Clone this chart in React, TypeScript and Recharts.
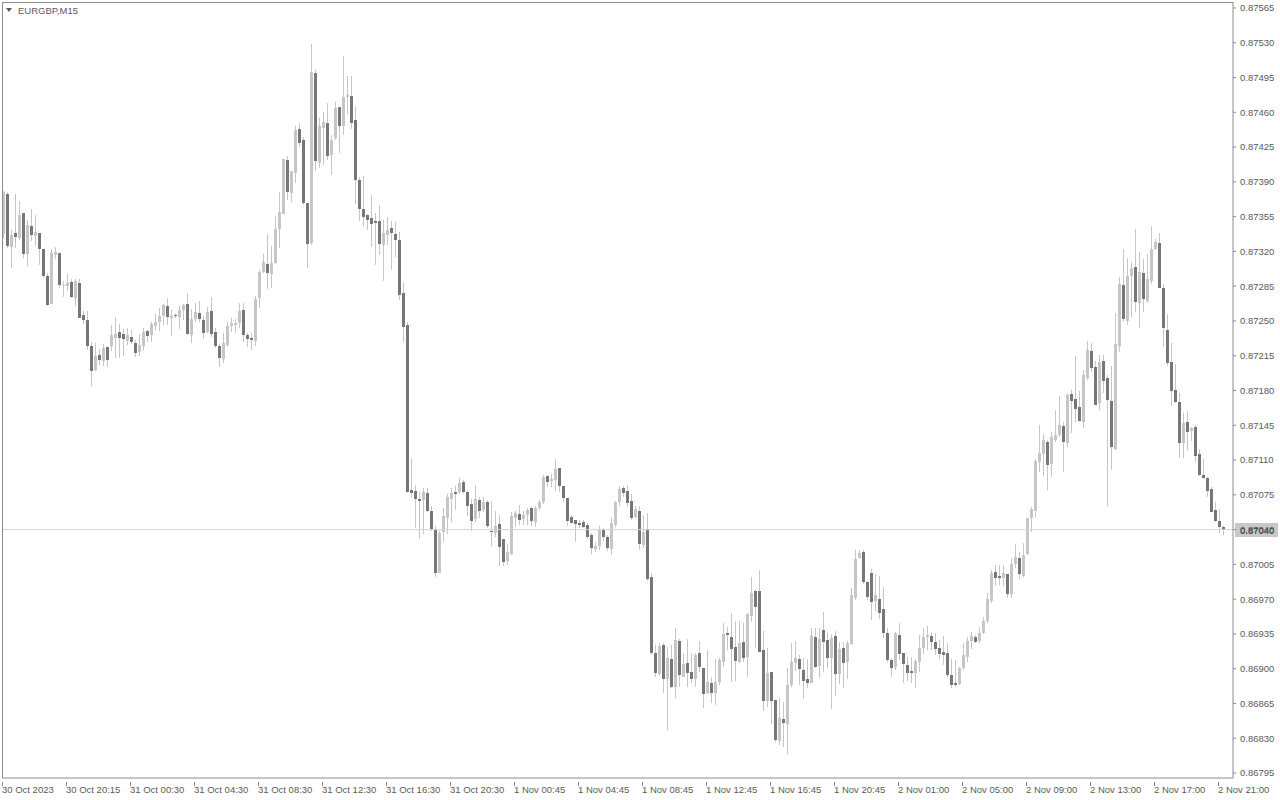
import React from 'react';
import { ComposedChart, Bar, XAxis, YAxis, ReferenceLine } from 'recharts';

// Prices are stored in points (1 point = 0.00001)
const POINT = 100000;
const symbolLabel = 'EURGBP,M15';
const currentPrice = 0.8704;

const opens = [
  87338, 87378, 87324, 87339, 87333, 87359, 87317, 87346, 87335, 87339,
  87322, 87295, 87267, 87316, 87318, 87285, 87285, 87289, 87273, 87288,
  87256, 87251, 87225, 87201, 87216, 87210, 87224, 87225, 87233, 87239,
  87237, 87230, 87234, 87228, 87219, 87225, 87240, 87236, 87245, 87249,
  87255, 87265, 87253, 87256, 87254, 87261, 87267, 87236, 87252, 87258,
  87251, 87239, 87260, 87239, 87225, 87212, 87226, 87245, 87246, 87248,
  87261, 87236, 87233, 87230, 87273, 87299, 87307, 87297, 87308, 87343,
  87358, 87412, 87379, 87399, 87443, 87432, 87369, 87328, 87500, 87409,
  87444, 87449, 87417, 87434, 87465, 87446, 87475, 87476, 87452, 87392,
  87363, 87357, 87354, 87351, 87351, 87326, 87337, 87344, 87338, 87331,
  87278, 87246, 87080, 87079, 87071, 87070, 87077, 87059, 87041, 86996,
  87038, 87052, 87071, 87078, 87078, 87088, 87078, 87066, 87051, 87070,
  87060, 87068, 87039, 87037, 87046, 87031, 87008, 87015, 87052, 87056,
  87051, 87055, 87062, 87048, 87062, 87068, 87094, 87089, 87090, 87102,
  87084, 87072, 87053, 87050, 87047, 87048, 87045, 87035, 87020, 87023,
  87040, 87033, 87020, 87045, 87068, 87082, 87079, 87069, 87053, 87059,
  87024, 87041, 86992, 86916, 86895, 86924, 86890, 86910, 86882, 86928,
  86892, 86906, 86897, 86890, 86916, 86901, 86876, 86886, 86876, 86887,
  86907, 86936, 86932, 86922, 86907, 86927, 86912, 86953, 86978, 86978,
  86919, 86867, 86897, 86869, 86827, 86849, 86844, 86884, 86906, 86910,
  86899, 86890, 86886, 86932, 86903, 86939, 86929, 86911, 86933, 86895,
  86921, 86907, 86925, 86971, 87011, 87017, 86987, 86996, 86968, 86970,
  86960, 86936, 86909, 86902, 86934, 86916, 86904, 86898, 86896, 86907,
  86921, 86932, 86933, 86927, 86921, 86917, 86916, 86894, 86886, 86885,
  86901, 86912, 86928, 86932, 86928, 86936, 86948, 86968, 86997, 86993,
  86991, 86995, 86975, 87005, 87011, 86993, 87015, 87052, 87059, 87108,
  87116, 87128, 87106, 87130, 87135, 87144, 87127, 87176, 87171, 87163,
  87148, 87193, 87220, 87204, 87167, 87210, 87193, 87169, 87121, 87225,
  87286, 87250, 87295, 87304, 87268, 87298, 87270, 87290, 87322, 87328,
  87283, 87241, 87209, 87181, 87168, 87127, 87148, 87139, 87143, 87116,
  87095, 87092, 87081, 87060, 87049, 87043,
];

const highs = [
  87381, 87380, 87342, 87378, 87371, 87359, 87352, 87363, 87357, 87339,
  87322, 87298, 87322, 87324, 87318, 87290, 87297, 87292, 87292, 87292,
  87260, 87260, 87229, 87228, 87222, 87227, 87224, 87246, 87254, 87247,
  87242, 87243, 87241, 87231, 87237, 87243, 87241, 87249, 87257, 87263,
  87267, 87273, 87261, 87258, 87265, 87267, 87278, 87262, 87268, 87270,
  87255, 87264, 87274, 87243, 87227, 87238, 87249, 87253, 87252, 87268,
  87268, 87238, 87238, 87275, 87301, 87317, 87338, 87325, 87356, 87380,
  87413, 87416, 87401, 87446, 87449, 87435, 87369, 87529, 87503, 87454,
  87460, 87469, 87437, 87470, 87465, 87517, 87497, 87497, 87466, 87395,
  87396, 87358, 87377, 87359, 87367, 87352, 87355, 87351, 87350, 87340,
  87289, 87249, 87112, 87085, 87078, 87082, 87082, 87064, 87044, 87039,
  87062, 87076, 87082, 87084, 87092, 87090, 87080, 87071, 87085, 87073,
  87073, 87070, 87069, 87059, 87055, 87031, 87026, 87058, 87059, 87065,
  87059, 87062, 87063, 87064, 87070, 87095, 87095, 87096, 87111, 87102,
  87084, 87072, 87055, 87050, 87050, 87050, 87047, 87037, 87028, 87044,
  87042, 87035, 87053, 87069, 87084, 87084, 87085, 87076, 87064, 87064,
  87055, 87057, 86996, 86924, 86926, 86926, 86922, 86924, 86941, 86930,
  86916, 86930, 86916, 86916, 86928, 86901, 86919, 86892, 86910, 86911,
  86946, 86942, 86956, 86948, 86948, 86946, 86956, 86992, 86979, 86999,
  86938, 86921, 86897, 86869, 86871, 86866, 86901, 86926, 86928, 86914,
  86911, 86910, 86941, 86941, 86941, 86957, 86936, 86935, 86938, 86927,
  86927, 86928, 86981, 87019, 87019, 87019, 86988, 87000, 86995, 86993,
  86982, 86941, 86911, 86937, 86946, 86916, 86912, 86912, 86910, 86934,
  86941, 86943, 86937, 86936, 86929, 86933, 86926, 86910, 86909, 86902,
  86926, 86932, 86937, 86934, 86942, 86952, 86976, 86999, 87004, 87004,
  87004, 86995, 87011, 87026, 87017, 87027, 87052, 87063, 87111, 87145,
  87136, 87130, 87138, 87160, 87174, 87148, 87177, 87181, 87215, 87179,
  87201, 87230, 87228, 87210, 87216, 87216, 87196, 87205, 87258, 87294,
  87322, 87313, 87309, 87343, 87319, 87312, 87317, 87346, 87332, 87339,
  87287, 87257, 87228, 87207, 87177, 87157, 87159, 87143, 87145, 87121,
  87111, 87093, 87083, 87068, 87061, 87044,
];

const lows = [
  87333, 87323, 87303, 87323, 87331, 87313, 87305, 87330, 87325, 87306,
  87293, 87265, 87267, 87312, 87283, 87274, 87280, 87273, 87265, 87253,
  87247, 87221, 87185, 87200, 87206, 87205, 87204, 87220, 87213, 87213,
  87215, 87226, 87227, 87214, 87215, 87220, 87229, 87229, 87241, 87240,
  87246, 87246, 87235, 87253, 87242, 87251, 87236, 87228, 87249, 87249,
  87232, 87238, 87234, 87223, 87204, 87208, 87224, 87239, 87238, 87243,
  87229, 87224, 87221, 87225, 87263, 87298, 87282, 87283, 87307, 87323,
  87358, 87372, 87370, 87389, 87425, 87367, 87303, 87326, 87401, 87404,
  87407, 87412, 87397, 87432, 87419, 87437, 87458, 87443, 87368, 87351,
  87346, 87342, 87324, 87306, 87316, 87290, 87326, 87301, 87314, 87271,
  87229, 87077, 87072, 87042, 87031, 87036, 87058, 87039, 86992, 86996,
  87028, 87036, 87048, 87060, 87076, 87076, 87054, 87039, 87048, 87052,
  87058, 87042, 87023, 87033, 87003, 87003, 87004, 87014, 87043, 87045,
  87045, 87045, 87044, 87043, 87060, 87066, 87083, 87083, 87079, 87078,
  87068, 87044, 87047, 87028, 87042, 87042, 87031, 87015, 87017, 87019,
  87029, 87018, 87014, 87043, 87064, 87073, 87063, 87050, 87052, 87019,
  87021, 86988, 86914, 86892, 86893, 86876, 86838, 86881, 86871, 86882,
  86892, 86882, 86886, 86882, 86897, 86860, 86875, 86865, 86863, 86884,
  86902, 86919, 86887, 86888, 86906, 86907, 86892, 86947, 86921, 86917,
  86857, 86861, 86844, 86826, 86823, 86821, 86814, 86882, 86898, 86884,
  86870, 86881, 86886, 86901, 86891, 86897, 86901, 86859, 86873, 86885,
  86881, 86890, 86924, 86969, 87011, 86985, 86969, 86949, 86958, 86950,
  86931, 86907, 86892, 86899, 86909, 86886, 86888, 86886, 86881, 86897,
  86915, 86919, 86919, 86914, 86910, 86904, 86892, 86881, 86882, 86884,
  86899, 86907, 86920, 86926, 86926, 86935, 86946, 86966, 86983, 86984,
  86983, 86971, 86971, 87001, 86990, 86992, 87014, 87038, 87053, 87098,
  87094, 87080, 87093, 87128, 87133, 87098, 87123, 87137, 87148, 87148,
  87142, 87191, 87199, 87165, 87160, 87177, 87064, 87100, 87120, 87219,
  87249, 87246, 87254, 87259, 87243, 87259, 87268, 87287, 87321, 87283,
  87224, 87205, 87164, 87167, 87112, 87112, 87120, 87129, 87108, 87094,
  87091, 87073, 87058, 87048, 87037, 87035,
];

const closes = [
  87380, 87325, 87337, 87334, 87357, 87317, 87347, 87336, 87340, 87322,
  87295, 87266, 87318, 87319, 87286, 87286, 87288, 87274, 87290, 87253,
  87251, 87225, 87200, 87215, 87211, 87223, 87211, 87236, 87237, 87233,
  87232, 87236, 87229, 87218, 87226, 87239, 87235, 87247, 87249, 87255,
  87266, 87254, 87255, 87255, 87261, 87266, 87237, 87252, 87259, 87252,
  87238, 87259, 87237, 87225, 87213, 87228, 87245, 87248, 87248, 87260,
  87236, 87232, 87231, 87272, 87299, 87309, 87298, 87308, 87343, 87360,
  87413, 87380, 87401, 87442, 87429, 87369, 87327, 87501, 87411, 87446,
  87450, 87416, 87432, 87464, 87446, 87475, 87477, 87449, 87392, 87363,
  87355, 87352, 87348, 87349, 87327, 87339, 87342, 87339, 87331, 87276,
  87244, 87078, 87077, 87071, 87069, 87078, 87059, 87041, 86996, 87037,
  87054, 87073, 87077, 87076, 87087, 87078, 87064, 87049, 87071, 87059,
  87068, 87044, 87038, 87044, 87022, 87007, 87017, 87054, 87057, 87050,
  87055, 87060, 87049, 87062, 87068, 87093, 87088, 87091, 87101, 87084,
  87072, 87049, 87047, 87046, 87045, 87043, 87033, 87021, 87023, 87041,
  87033, 87021, 87047, 87068, 87081, 87077, 87067, 87052, 87061, 87026,
  87038, 86990, 86916, 86896, 86923, 86890, 86911, 86882, 86929, 86894,
  86905, 86896, 86890, 86914, 86902, 86875, 86887, 86876, 86887, 86909,
  86935, 86934, 86920, 86908, 86926, 86911, 86955, 86976, 86962, 86917,
  86867, 86896, 86867, 86828, 86850, 86845, 86884, 86907, 86911, 86900,
  86888, 86886, 86933, 86902, 86930, 86927, 86911, 86931, 86895, 86920,
  86906, 86926, 86974, 87010, 87016, 86987, 86972, 86967, 86974, 86956,
  86936, 86909, 86901, 86936, 86915, 86905, 86896, 86896, 86908, 86921,
  86932, 86934, 86927, 86920, 86915, 86914, 86894, 86884, 86884, 86901,
  86914, 86928, 86933, 86927, 86936, 86948, 86970, 86996, 86991, 86991,
  86996, 86975, 87005, 87012, 86995, 87014, 87052, 87061, 87109, 87117,
  87130, 87105, 87133, 87135, 87145, 87128, 87175, 87169, 87161, 87149,
  87196, 87221, 87203, 87165, 87209, 87190, 87170, 87123, 87227, 87287,
  87252, 87295, 87303, 87269, 87299, 87272, 87292, 87322, 87329, 87283,
  87243, 87208, 87179, 87168, 87127, 87147, 87138, 87142, 87114, 87095,
  87092, 87079, 87058, 87049, 87043, 87040,
];

const timeLabels = [
  '30 Oct 2023', '30 Oct 20:15', '31 Oct 00:30', '31 Oct 04:30', '31 Oct 08:30',
  '31 Oct 12:30', '31 Oct 16:30', '31 Oct 20:30', '1 Nov 00:45', '1 Nov 04:45',
  '1 Nov 08:45', '1 Nov 12:45', '1 Nov 16:45', '1 Nov 20:45', '2 Nov 01:00',
  '2 Nov 05:00', '2 Nov 09:00', '2 Nov 13:00', '2 Nov 17:00', '2 Nov 21:00',
];
const LABEL_STEP = 16;

const priceTicks = [
  0.86795, 0.8683, 0.86865, 0.869, 0.86935, 0.8697, 0.87005, 0.8704, 0.87075,
  0.8711, 0.87145, 0.8718, 0.87215, 0.8725, 0.87285, 0.8732, 0.87355, 0.8739,
  0.87425, 0.8746, 0.87495, 0.8753, 0.87565,
];
const priceDomain = [0.8679, 0.87571];
// bar-index range shown (includes MT4's empty chart shift at the right)
const barDomain = [-0.375, 307.375];

const data = opens.map((o, i) => ({
  i,
  open: o / POINT,
  high: highs[i] / POINT,
  low: lows[i] / POINT,
  close: closes[i] / POINT,
  range: [lows[i] / POINT, highs[i] / POINT],
}));

const xTicks = timeLabels.map((_, k) => k * LABEL_STEP);

const FONT = "'Liberation Sans', Arial, sans-serif";
const FS = 9.5;
const TEXT = '#5a5a5a';
const FRAME = '#8c8c8c';
const WICK = '#c6c6c6';
const BULL = '#c6c6c6';
const BEAR = '#777777';

const Candle = (props: any) => {
  const { x, y, width, height, payload } = props;
  if (x == null || y == null) return null;
  const top = Math.min(y, y + height);
  const h = Math.abs(height);
  const { open, close, high, low } = payload;
  const span = high - low;
  const toY = (v: number) => (span > 0 ? top + ((high - v) / span) * h : top);
  const cx = Math.floor(x + width / 2);
  const bTop = Math.round(toY(Math.max(open, close)));
  const bBot = Math.round(toY(Math.min(open, close)));
  const bull = close >= open;
  return (
    <g shapeRendering="crispEdges">
      <rect x={cx} y={Math.round(top)} width={1} height={Math.max(1, Math.round(top + h) - Math.round(top))} fill={WICK} />
      <rect x={cx - 1} y={bTop} width={3} height={Math.max(1, bBot - bTop)} fill={bull ? BULL : BEAR} />
    </g>
  );
};

const XTick = (props: any) => {
  const { x, y, payload } = props;
  const label = timeLabels[Math.round(payload.value / LABEL_STEP)];
  const lx = Math.floor(x) - 1;
  return (
    <g>
      <line x1={lx + 0.5} x2={lx + 0.5} y1={y - 4} y2={y} stroke={FRAME} />
      <text x={lx} y={y + 7} textAnchor="start" fontFamily={FONT} fontSize={FS} fill={TEXT}>
        {label}
      </text>
    </g>
  );
};

const PriceTag = (props: any) => {
  const vb = props.viewBox || {};
  const right = (vb.x || 0) + (vb.width || 0);
  const cy = Math.round(vb.y || 0);
  return (
    <g>
      <rect x={right + 2} y={cy - 7} width={43} height={14} fill="#c8c8c8" />
      <text x={right + 7} y={cy + 4} fontFamily={FONT} fontSize={FS} fill="#303030">
        {currentPrice.toFixed(5)}
      </text>
    </g>
  );
};

export default function App() {
  return (
    <div style={{ position: 'absolute', left: 0, top: 0, width: 1280, height: 800, background: '#ffffff' }}>
      <ComposedChart
        width={1280}
        height={800}
        data={data}
        margin={{ top: 2, right: 0, bottom: 0, left: 2 }}
      >
        <XAxis
          dataKey="i"
          type="number"
          domain={barDomain}
          allowDataOverflow
          ticks={xTicks}
          interval={0}
          tick={<XTick />}
          tickLine={false}
          axisLine={{ stroke: FRAME }}
          height={22}
        />
        <YAxis
          orientation="right"
          type="number"
          domain={priceDomain}
          allowDataOverflow
          ticks={priceTicks}
          interval={0}
          width={47}
          tickSize={3}
          tickMargin={4}
          tickLine={{ stroke: FRAME }}
          axisLine={{ stroke: FRAME }}
          tick={{ fontFamily: FONT, fontSize: FS, fill: TEXT }}
          tickFormatter={(v: number) => v.toFixed(5)}
        />
        <ReferenceLine y={currentPrice} stroke="#d4d4d4" label={<PriceTag />} ifOverflow="visible" />
        <Bar dataKey="range" shape={<Candle />} isAnimationActive={false} barSize={3} />
      </ComposedChart>
      <div
        style={{
          position: 'absolute',
          left: 2,
          top: 2,
          width: 1231,
          height: 776,
          borderLeft: `1px solid ${FRAME}`,
          borderTop: `1px solid ${FRAME}`,
          boxSizing: 'border-box',
          pointerEvents: 'none',
        }}
      />
      <svg style={{ position: 'absolute', left: 0, top: 0 }} width={100} height={20}>
        <polygon points="6,8 12,8 9,12" fill="#5a5a5a" />
        <text x={18} y={14} fontFamily={FONT} fontSize={FS} fill={TEXT}>
          {symbolLabel}
        </text>
      </svg>
    </div>
  );
}
